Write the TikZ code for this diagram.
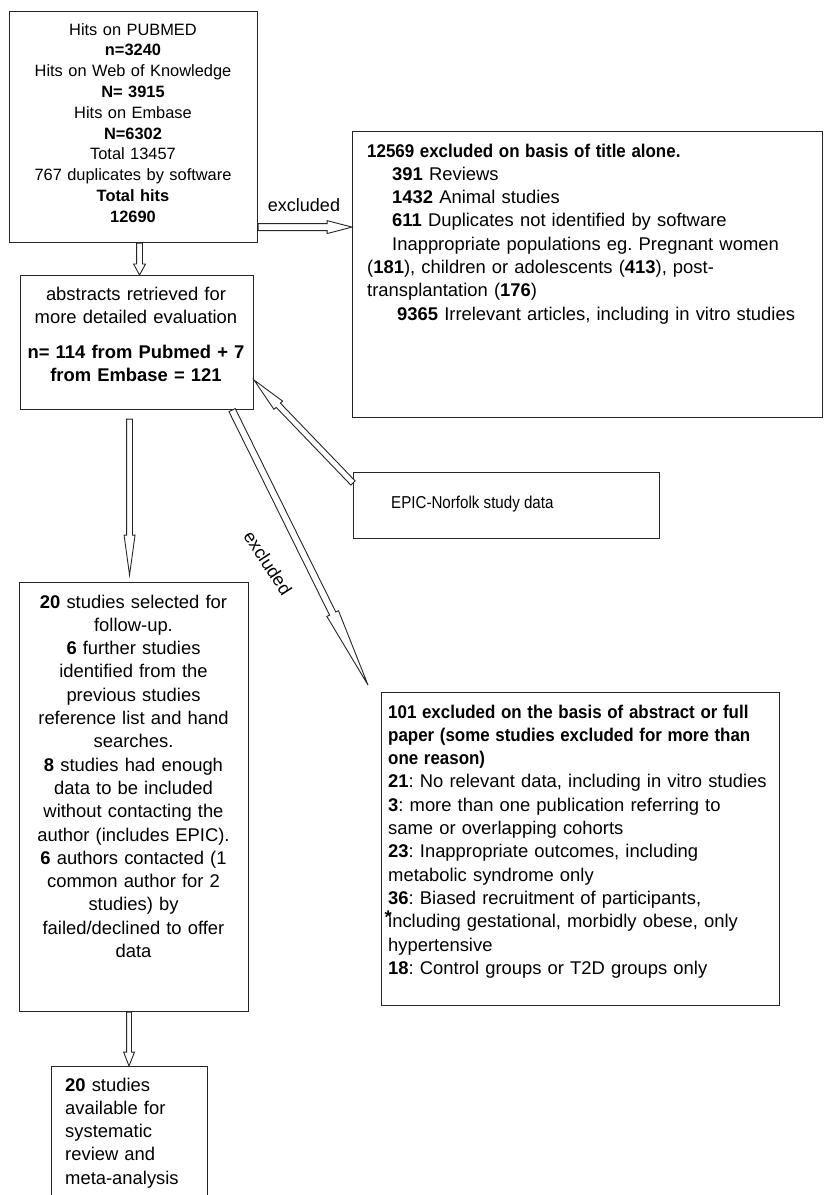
\documentclass[tikz,border=0pt]{standalone}
\usepackage{fontspec}
\setmainfont{Liberation Sans}
\usepackage{graphicx}
\usetikzlibrary{calc}
\frenchspacing
\newcommand{\fmain}{\fontsize{18.4bp}{23.3bp}\selectfont}
\newcommand{\fsearch}{\fontsize{16.4bp}{20.8bp}\selectfont}
\newcommand{\condensed}[1]{\scalebox{0.92}[1]{\bfseries #1}}
% hollow block arrow: from, to, shaft half width, head half width, head length
\newcommand{\blockarrow}[5]{
  \draw[arrowline] let \p1=($(#2)-(#1)$), \n1={veclen(\x1,\y1)}, \n2={atan2(\y1,\x1)} in
    [shift={(#1)}, rotate=\n2]
    (0pt,#3pt) -- (\n1-#5pt,#3pt) -- (\n1-#5pt,#4pt) -- (\n1,0pt)
    -- (\n1-#5pt,-#4pt) -- (\n1-#5pt,-#3pt) -- (0pt,-#3pt) -- cycle;
}

\begin{document}
\begin{tikzpicture}[x=1bp, y=-1bp,
    box/.style={draw=black!85, line width=1.1bp, anchor=north west, inner sep=0pt},
    txt/.style={inner sep=0pt, font=\fmain},
    lbl/.style={inner sep=0pt, font=\fontsize{18bp}{20bp}\selectfont},
    arrowline/.style={draw=black!85, line width=0.9bp, fill=white, line join=miter}]
  \useasboundingbox (0,0) rectangle (824,1195);

  \node[box, minimum width=248bp, minimum height=231bp] (search) at (9,11) {};
  \node[box, minimum width=233bp, minimum height=134bp] (abstracts) at (20,275) {};
  \node[box, minimum width=470bp, minimum height=286bp] (titleout) at (352,131) {};
  \node[box, minimum width=306bp, minimum height=66bp] (epic) at (353,472) {};
  \node[box, minimum width=398bp, minimum height=313bp] (abstractout) at (381,692) {};
  \node[box, minimum width=229bp, minimum height=429bp] (selected) at (19,582) {};
  \node[box, minimum width=156bp, minimum height=140bp] (included) at (51,1066) {};

  \node[txt, font=\fsearch, text width=240bp, align=center, anchor=base] (searchtext) at (133,35)
    {Hits on PUBMED\\\textbf{n=3240}\\Hits on Web of Knowledge\\\textbf{N= 3915}\\Hits on Embase\\
     \textbf{N=6302}\\Total 13457\\767 duplicates by software\\\textbf{Total hits}\\\textbf{12690}};
  \node[txt, text width=228bp, align=center, anchor=base] (abstractstext) at (136,300)
    {abstracts retrieved for\\more detailed evaluation\\[12bp]
     \textbf{n= 114 from Pubmed + 7}\\\textbf{from Embase = 121}};
  \node[txt, text width=450bp, align=left, anchor=base west] (titletext) at (367,157)
    {\condensed{12569 excluded on basis of title alone.}\\
     \hspace*{25bp}\textbf{391} Reviews\\
     \hspace*{25bp}\textbf{1432} Animal studies\\
     \hspace*{25bp}\textbf{611} Duplicates not identified by software\\
     \hspace*{25bp}Inappropriate populations eg. Pregnant women\\
     (\textbf{181}), children or adolescents (\textbf{413}), post-\\
     transplantation (\textbf{176})\\
     \hspace*{30bp}\textbf{9365} Irrelevant articles, including in vitro studies};
  \node[txt, anchor=base west] (epictext) at (391,508)
    {\scalebox{0.88}[1]{\fontsize{17.2bp}{20bp}\selectfont EPIC-Norfolk study data}};
  \node[txt, text width=390bp, align=left, anchor=base west] (abstractouttext) at (388,718)
    {\condensed{101 excluded on the basis of abstract or full}\\
     \condensed{paper (some studies excluded for more than}\\
     \condensed{one reason)}\\
     \textbf{21}: No relevant data, including in vitro studies\\
     \textbf{3}: more than one publication referring to\\
     same or overlapping cohorts\\
     \textbf{23}: Inappropriate outcomes, including\\
     metabolic syndrome only\\
     \textbf{36}: Biased recruitment of participants,\\
     \makebox[0pt][l]{\hspace*{-3.5bp}\raisebox{4bp}{\textbf{*}}}including gestational, morbidly obese, only\\
     hypertensive\\
     \textbf{18}: Control groups or T2D groups only};
  \node[txt, text width=225bp, align=center, anchor=base] (selectedtext) at (133.5,608)
    {\textbf{20} studies selected for\\follow-up.\\\textbf{6} further studies\\identified from the\\
     previous studies\\reference list and hand\\searches.\\\textbf{8} studies had enough\\
     data to be included\\without contacting the\\author (includes EPIC).\\
     \textbf{6} authors contacted (1\\common author for 2\\studies) by\\failed/declined to offer\\data};
  \node[txt, text width=140bp, align=left, anchor=base west] (includedtext) at (65,1091)
    {\textbf{20} studies\\available for\\systematic\\review and\\meta-analysis};

  % arrows
  \coordinate (a1s) at ([xshift=6bp]search.south);
  \coordinate (a1e) at (a1s |- abstracts.north);
  \blockarrow{a1s}{a1e}{3}{6}{11}
  \coordinate (a2s) at ([yshift=16bp]search.south east);
  \coordinate (a2e) at (a2s -| titleout.west);
  \blockarrow{a2s}{a2e}{3.5}{6.5}{25}
  \coordinate (a3s) at ([shift={(-7.5,9)}]abstracts.south);
  \coordinate (a3e) at ([yshift=7bp]a3s |- selected.north);
  \blockarrow{a3s}{a3e}{3}{5.5}{40}
  \coordinate (a4s) at ([xshift=-5bp]selected.south);
  \coordinate (a4e) at (a4s |- included.north);
  \blockarrow{a4s}{a4e}{2.5}{5.5}{14}
  \coordinate (a5s) at ([yshift=-11bp]epic.north west);
  \coordinate (a5e) at ([yshift=30bp]abstracts.south east);
  \blockarrow{a5s}{a5e}{3}{6}{35}
  \coordinate (a6s) at ([xshift=-22bp]abstracts.south east);
  \coordinate (a6e) at ([shift={(-13,-7)}]abstractout.north west);
  \blockarrow{a6s}{a6e}{3.5}{6.5}{80}

  \node[lbl, anchor=base] (exlbl1) at (304,211) {excluded};
  \node[lbl, rotate=-57] (exlbl2) at (268,563) {excluded};
\end{tikzpicture}
\end{document}
